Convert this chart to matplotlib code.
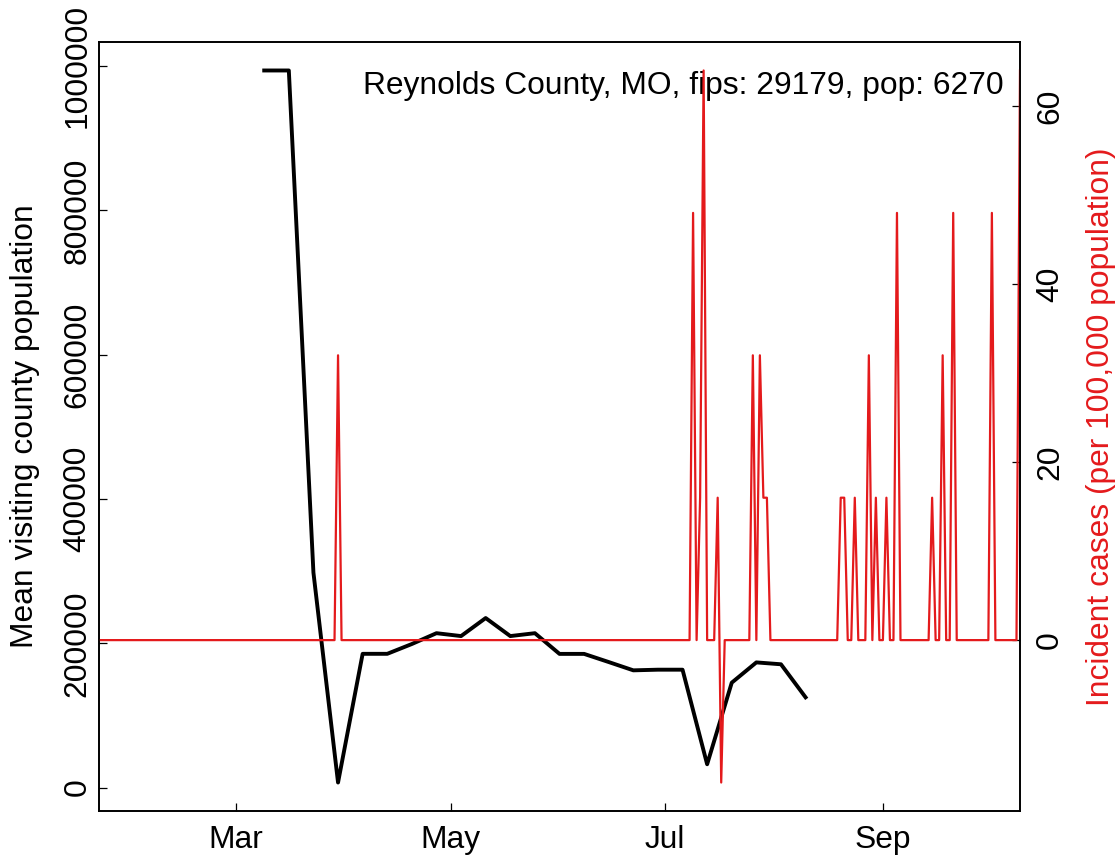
import numpy as np
import matplotlib.pyplot as plt

plt.rcParams['font.family'] = ['Liberation Sans', 'DejaVu Sans']

# weekly mean visiting population (left axis)
visit_dates = np.array(['2020-03-09', '2020-03-16', '2020-03-23', '2020-03-30',
                        '2020-04-06', '2020-04-13', '2020-04-20', '2020-04-27',
                        '2020-05-04', '2020-05-11', '2020-05-18', '2020-05-25',
                        '2020-06-01', '2020-06-08', '2020-06-15', '2020-06-22',
                        '2020-06-29', '2020-07-06', '2020-07-13', '2020-07-20',
                        '2020-07-27', '2020-08-03', '2020-08-10'], dtype='datetime64[D]')
visit_mean = [994000, 994000, 298000, 7000,
              185400, 185400, 199000, 214000,
              210000, 235000, 210000, 214000,
              185300, 185300, 174000, 162500,
              163400, 163400, 32300, 145400,
              173500, 170900, 125100]

# daily incident cases per 100,000 (right axis); days not listed are 0
case_start = '2020-01-22'
case_end = '2020-10-10'
spike_dates = ['2020-03-30', '2020-07-09', '2020-07-11', '2020-07-12', '2020-07-16',
               '2020-07-17', '2020-07-26', '2020-07-28', '2020-07-29', '2020-07-30',
               '2020-08-20', '2020-08-21', '2020-08-24', '2020-08-28', '2020-08-30',
               '2020-09-02', '2020-09-05', '2020-09-15', '2020-09-18', '2020-09-21',
               '2020-10-02', '2020-10-10']
spike_vals = [32, 48, 16, 64, 16,
              -16, 32, 32, 16, 16,
              16, 16, 16, 32, 16,
              16, 48, 16, 32, 48,
              48, 64]

month_ticks = ['2020-03-01', '2020-05-01', '2020-07-01', '2020-09-01']
month_labels = ['Mar', 'May', 'Jul', 'Sep']
left_ticks = [0, 200000, 400000, 600000, 800000, 1000000]
left_labels = ['0', '200000', '400000', '600000', '800000', '1000000']
right_ticks = [0, 20, 40, 60]
right_labels = ['0', '20', '40', '60']
title = 'Reynolds County, MO, fips: 29179, pop: 6270'

days = np.arange(np.datetime64(case_start), np.datetime64(case_end) + 1)
cases = np.zeros(len(days))
for d, v in zip(spike_dates, spike_vals):
    cases[days == np.datetime64(d)] = v

red = '#E41A1C'
fs = 22.9

fig = plt.figure(figsize=(11.19, 8.60), dpi=100)
ax = fig.add_axes([99 / 1119, 1 - 811 / 860, 921 / 1119, 769 / 860])

ax.plot(visit_dates, visit_mean, color='black', lw=2.8)
lo, hi = min(visit_mean), max(visit_mean)
ax.set_ylim(lo - 0.04 * (hi - lo), hi + 0.04 * (hi - lo))
ax.set_xlim(np.datetime64(case_start), np.datetime64(case_end))
ax.set_xticks(np.array(month_ticks, dtype='datetime64[D]'))
ax.set_xticklabels(month_labels)
ax.set_yticks(left_ticks)
ax.set_yticklabels(left_labels, rotation=90, va='center')
ax.tick_params(axis='x', direction='in', length=6, width=0.9, labelsize=fs, pad=10)
ax.tick_params(axis='y', direction='in', length=6, width=0.9, labelsize=fs, pad=4.7)
ax.set_ylabel('Mean visiting county population', fontsize=fs)
ax.yaxis.set_label_coords(-0.0645, 0.5)
ax.text(0.9826, 0.9329, title, transform=ax.transAxes, ha='right', va='baseline', fontsize=fs)

ax2 = ax.twinx()
ax2.plot(days, cases, color=red, lw=1.6)
clo, chi = cases.min(), cases.max()
ax2.set_ylim(clo - 0.04 * (chi - clo), chi + 0.04 * (chi - clo))
ax2.set_xlim(np.datetime64(case_start), np.datetime64(case_end))
ax2.set_yticks(right_ticks)
ax2.set_yticklabels(right_labels, rotation=90, va='center')
ax2.tick_params(axis='y', direction='in', length=6, width=0.9, labelsize=fs, pad=10.8)
ax2.set_ylabel('Incident cases (per 100,000 population)', fontsize=fs, color=red)
ax2.yaxis.set_label_coords(1.0717, 0.5)

for a in (ax, ax2):
    for s in a.spines.values():
        s.set_linewidth(1.2)
        s.set_color('black')

fig.savefig('out.png', dpi=100)
